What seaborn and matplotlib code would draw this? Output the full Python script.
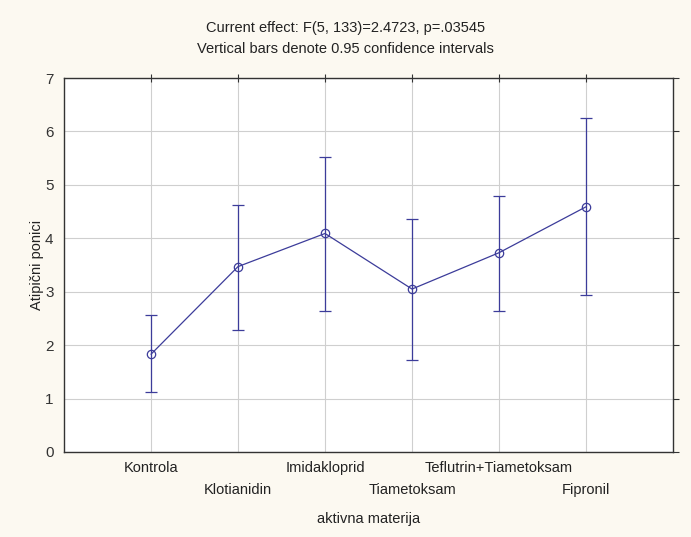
import numpy as np
import pandas as pd
import matplotlib
matplotlib.use('Agg')
import matplotlib.pyplot as plt
import seaborn as sns

# Podaci očitani sa slike
materije = ["Kontrola", "Klotianidin", "Imidakloprid", "Tiametoksam",
            "Teflutrin+Tiametoksam", "Fipronil"]
srednje = [1.83, 3.47, 4.09, 3.05, 3.73, 4.59]
donja_gr = [1.12, 2.28, 2.64, 1.72, 2.64, 2.93]
gornja_gr = [2.56, 4.63, 5.52, 4.36, 4.80, 6.25]

df = pd.DataFrame({"materija": materije, "srednja": srednje,
                   "donja": donja_gr, "gornja": gornja_gr})

boja = "#3c3c9a"

sns.set_style("white")
plt.rcParams['font.family'] = ['Liberation Sans', 'DejaVu Sans']

fig = plt.figure(figsize=(6.91, 5.37), dpi=100, facecolor="#fcf9f1")
ax = fig.add_axes([0.0926, 0.1583, 0.8814, 0.6964])
ax.set_facecolor("white")

pozicije = np.arange(len(materije))
sns.lineplot(x=pozicije, y=df["srednja"], ax=ax, color=boja, lw=0.9,
             marker="o", markersize=6, markerfacecolor="none",
             markeredgecolor=boja, markeredgewidth=0.9, zorder=3)
ax.errorbar(pozicije, df["srednja"],
            yerr=[df["srednja"] - df["donja"], df["gornja"] - df["srednja"]],
            fmt="none", ecolor=boja, elinewidth=0.9, capsize=4, capthick=0.9, zorder=3)

ax.set_xlim(-1, 6)
ax.set_ylim(0, 7)
ax.set_xticks(pozicije)
ax.set_xticklabels(materije, fontsize=10.5)
ax.set_yticks(range(8))
ax.tick_params(axis="y", labelsize=11, colors="#333333", direction="out", length=4)
ax.tick_params(axis="x", colors="#333333", direction="inout", length=6, labelcolor="#222222")
ax.tick_params(top=True, right=True)
# naizmjenični redovi oznaka na x osi
for i, t in enumerate(ax.xaxis.get_major_ticks()):
    if i % 2 == 1:
        t.set_pad(19)
ax.grid(True, color="#cfcfcf", lw=0.8)
ax.set_axisbelow(True)
for s in ax.spines.values():
    s.set_color("#333333")
    s.set_linewidth(1.0)

ax.set_xlabel("aktivna materija", fontsize=10.5, labelpad=11, color="#222222")
ax.set_ylabel("Atipični ponici", fontsize=10.5, labelpad=1, color="#222222")

fig.text(0.5, 0.948, "Current effect: F(5, 133)=2.4723, p=.03545",
         ha="center", va="center", fontsize=10.5, color="#222222")
fig.text(0.5, 0.908, "Vertical bars denote 0.95 confidence intervals",
         ha="center", va="center", fontsize=10.5, color="#222222")

fig.savefig("out.png", dpi=100, facecolor=fig.get_facecolor())
plt.close(fig)
